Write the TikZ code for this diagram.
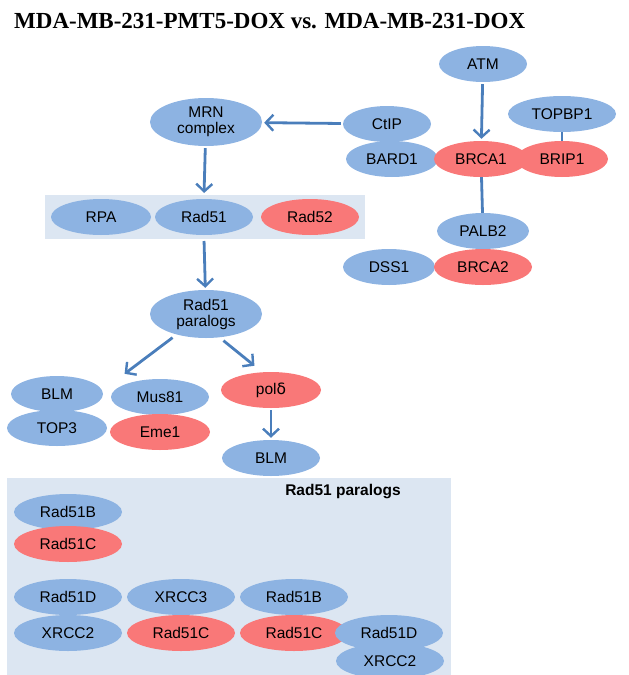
\documentclass[tikz,border=0pt]{standalone}
\usepackage{fontspec}
\setmainfont{Liberation Sans}
\newfontfamily\titlefont{Liberation Serif}
\usetikzlibrary{arrows.meta,shapes.geometric}

\definecolor{protblue}{RGB}{141,179,226}
\definecolor{protred}{RGB}{249,120,120}
\definecolor{boxfill}{RGB}{220,230,242}
\definecolor{arrowblue}{RGB}{74,126,187}

\tikzset{
  prot/.style={ellipse, fill=protblue, inner sep=0pt, minimum width=#1, minimum height=36pt,
    font=\fontsize{15.5}{17}\selectfont, align=center},
  prot/.default=96pt,
  hit/.style={prot=#1, fill=protred},
  hit/.default=98pt,
  link/.style={draw=arrowblue, line width=2.8pt},
  flow/.style={link, -{Straight Barb[length=7.5pt,width=16pt,line width=2.4pt]}, shorten >=2pt, shorten <=2pt},
}

\begin{document}
\begin{tikzpicture}[x=1pt, y=-1pt]
  \useasboundingbox (0,0) rectangle (629,675);

  % title
  \node[anchor=base west, inner sep=0pt, font=\titlefont\bfseries\fontsize{23}{24}\selectfont]
    (title) at (14,28) {MDA-MB-231-PMT5-DOX vs. MDA-MB-231-DOX};

  % shaded groups
  \fill[boxfill] (45,195) rectangle (365,239);
  \fill[boxfill] (7,478) rectangle (451,675);

  % BRCA1 cluster
  \node[prot=88pt] (atm) at (483,64) {ATM};
  \node[prot=108pt] (topbp1) at (562,114) {TOPBP1};
  \node[prot=88pt] (ctip) at (387,124) {CtIP};
  \node[prot=92pt] (bard1) at (392,159) {BARD1};
  \node[hit=94pt] (brca1) at (481,159) {BRCA1};
  \node[hit=92pt] (brip1) at (562,159) {BRIP1};
  \node[prot=92pt] (palb2) at (483,231) {PALB2};
  \node[prot=92pt] (dss1) at (389,267) {DSS1};
  \node[hit=98pt] (brca2) at (483,267) {BRCA2};

  % main pathway
  \node[prot=112pt, minimum height=48pt] (mrn) at (206,122) {MRN\\[-1pt]complex};
  \node[prot=100pt] (rpa) at (101,217) {RPA};
  \node[prot=98pt] (rad51) at (204,217) {Rad51};
  \node[hit=98pt] (rad52) at (310,217) {Rad52};
  \node[prot=112pt, minimum height=48pt] (paralogs) at (206,314) {Rad51\\[-1pt]paralogs};

  \node[prot=92pt] (blm) at (57,394) {BLM};
  \node[prot=100pt] (top3) at (57,428) {TOP3};
  \node[prot=98pt] (mus81) at (160,397) {Mus81};
  \node[hit=100pt] (eme1) at (160,432) {Eme1};
  \node[hit=100pt] (pold) at (271,390) {pol{\fontspec{DejaVu Sans}δ}};
  \node[prot=98pt] (blmb) at (271,458) {BLM};

  \coordinate (splitl) at (123,375);
  \coordinate (splitr) at (256,367);

  % connectors
  \draw[flow] (atm) -- (brca1);
  \draw[flow] (ctip) -- (mrn);
  \draw[link] (brca1) -- (palb2);
  \draw[link] (topbp1) -- (brip1);
  \draw[flow] (mrn) -- (rad51.north |- 0,195);
  \draw[flow] (rad51.south |- 0,239) -- (paralogs);
  \draw[flow, shorten <=5pt] (paralogs.215) -- (splitl);
  \draw[flow, shorten <=5pt] (paralogs.300) -- (splitr);
  \draw[flow] (pold) -- (blmb);

  % Rad51 paralog complexes
  \node[font=\bfseries\fontsize{15.5}{17}\selectfont] (parlabel) at (343,492) {Rad51 paralogs};
  \foreach \nm/\x/\y/\kind/\txt in {
      bcx/68/512/prot/Rad51B, bcy/68/544/hit/Rad51C,
      dxa/68/597/prot/Rad51D, dxb/68/633/prot/XRCC2,
      cxa/181/597/prot/XRCC3, cxb/181/633/hit/Rad51C,
      bcda/294/597/prot/Rad51B, bcdb/294/633/hit/Rad51C,
      bcdc/389/633/prot/Rad51D, bcdd/390/661/prot/XRCC2} {
    \node[\kind=108pt] (\nm) at (\x,\y) {\txt};
  }
\end{tikzpicture}
\end{document}
